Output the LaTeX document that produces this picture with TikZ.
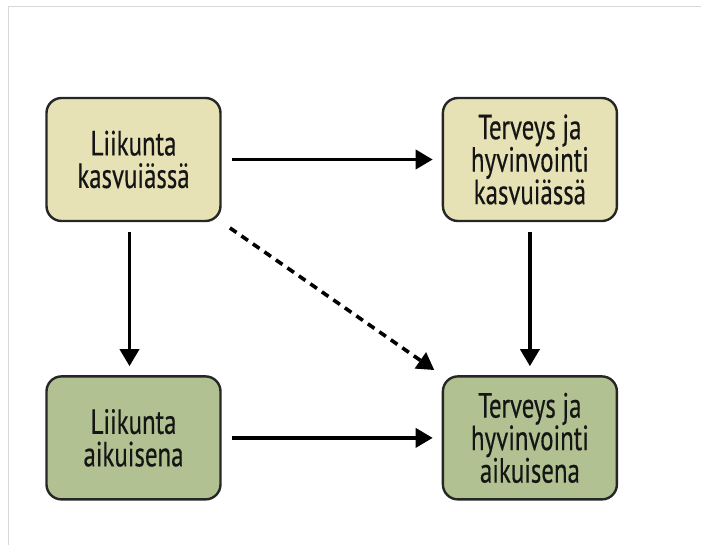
\documentclass[tikz,border=0pt]{standalone}
\usepackage{xcolor}
\usepackage{fontspec}
\setmainfont{PT Sans}[FakeStretch=0.71, FakeBold=0.4]
\usepackage{tikz}
\usetikzlibrary{arrows.meta, positioning}

\definecolor{youthfill}{HTML}{E6E2B5}
\definecolor{adultfill}{HTML}{B2C191}
\definecolor{framegray}{HTML}{D8D8D8}
\definecolor{textdark}{HTML}{151515}

\begin{document}
\begin{tikzpicture}[
    x=1pt, y=-1pt,
    node distance=220pt,
    box/.style={rectangle, draw=black!85, line width=2.4pt, rounded corners=15pt, minimum width=174pt, minimum height=123pt, align=center, text=textdark, font=\fontsize{35}{32.5}\selectfont},
    arrow/.style={-{Triangle[length=17pt, width=19pt]}, line width=3.6pt, shorten <=10pt, shorten >=9pt},
    dasharrow/.style={arrow, dash pattern=on 8pt off 6pt}
]
    \useasboundingbox (0,0) rectangle (701,545);
    % thin frame on top and left
    \draw[framegray, line width=1pt] (701,7) -- (8,7) -- (8,545);

    \node[box, fill=youthfill] (kidsport) at (133.5,159.5) {Liikunta\\kasvuiässä};
    \node[box, fill=youthfill, right=of kidsport] (kidhealth) {Terveys ja\\hyvinvointi\\kasvuiässä};
    \node[box, fill=adultfill, below=153pt of kidsport] (adultsport) {Liikunta\\aikuisena};
    \node[box, fill=adultfill, right=of adultsport] (adulthealth) {Terveys ja\\hyvinvointi\\aikuisena};

    \draw[arrow] (kidsport) -- (kidhealth);
    \draw[arrow] ([xshift=-4pt]kidsport.south) -- ([xshift=-4pt]adultsport.north);
    \draw[arrow] (kidhealth) -- (adulthealth);
    \draw[arrow] (adultsport) -- (adulthealth);
    \draw[dasharrow] (kidsport.south east) -- (adulthealth.north west);
\end{tikzpicture}
\end{document}
